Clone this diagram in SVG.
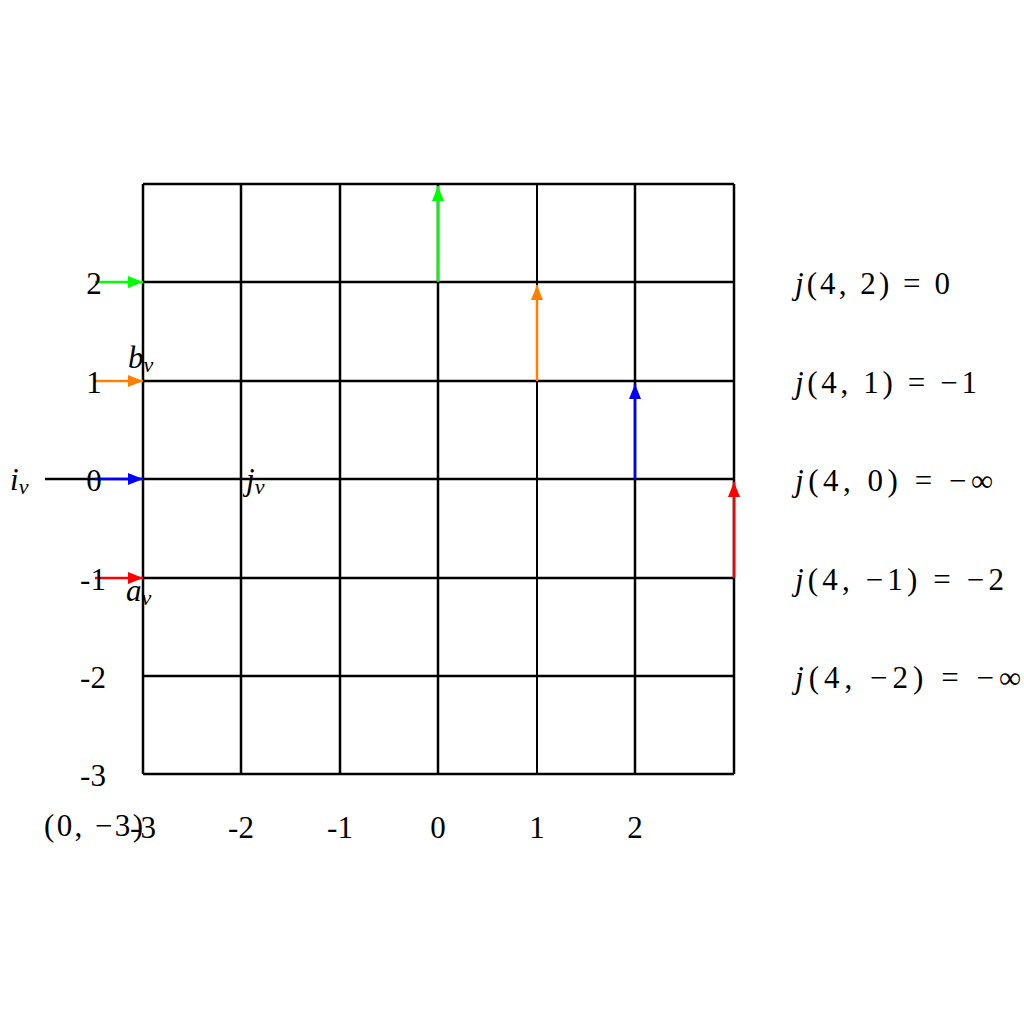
<svg xmlns="http://www.w3.org/2000/svg" width="1024" height="1024" viewBox="0 0 1024 1024">
<style>
.g{stroke:#000;stroke-width:2.5;fill:none}
text{font-family:"Liberation Serif","DejaVu Serif",serif;font-size:31px;fill:#000}
.m{font-style:italic}
.c{text-anchor:middle}
.s{font-size:22px}
</style>
<defs>
<marker id="ag" markerWidth="15" markerHeight="12" refX="15" refY="6" orient="auto" markerUnits="userSpaceOnUse"><path d="M0,0 L15,6 L0,12 Z" fill="#00ff00"/></marker>
<marker id="ao" markerWidth="15" markerHeight="12" refX="15" refY="6" orient="auto" markerUnits="userSpaceOnUse"><path d="M0,0 L15,6 L0,12 Z" fill="#ff8000"/></marker>
<marker id="ab" markerWidth="15" markerHeight="12" refX="15" refY="6" orient="auto" markerUnits="userSpaceOnUse"><path d="M0,0 L15,6 L0,12 Z" fill="#0000ff"/></marker>
<marker id="ar" markerWidth="15" markerHeight="12" refX="15" refY="6" orient="auto" markerUnits="userSpaceOnUse"><path d="M0,0 L15,6 L0,12 Z" fill="#ff0000"/></marker>
</defs>
<rect width="1024" height="1024" fill="#fff"/>
<g id="grid" class="g">
<line x1="143" y1="184" x2="734" y2="184"/>
<line x1="143" y1="282" x2="734" y2="282"/>
<line x1="143" y1="381" x2="734" y2="381"/>
<line x1="45" y1="479" x2="734" y2="479"/>
<line x1="143" y1="578" x2="734" y2="578"/>
<line x1="143" y1="676" x2="734" y2="676"/>
<line x1="143" y1="774" x2="734" y2="774"/>
<line x1="143" y1="184" x2="143" y2="774"/>
<line x1="241" y1="184" x2="241" y2="774"/>
<line x1="340" y1="184" x2="340" y2="774"/>
<line x1="438" y1="184" x2="438" y2="774"/>
<line x1="537" y1="184" x2="537" y2="774" stroke-width="2"/>
<line x1="635" y1="184" x2="635" y2="774"/>
<line x1="734" y1="184" x2="734" y2="774"/>
</g>
<g id="connectors" stroke-width="2.5" fill="none">
<line x1="95" y1="282" x2="143" y2="282" stroke="#00ff00" marker-end="url(#ag)"/>
<line x1="95" y1="381" x2="143" y2="381" stroke="#ff8000" marker-end="url(#ao)"/>
<line x1="95" y1="479" x2="143" y2="479" stroke="#0000ff" marker-end="url(#ab)"/>
<line x1="95" y1="578" x2="143" y2="578" stroke="#ff0000" marker-end="url(#ar)"/>
<line x1="438" y1="282" x2="438" y2="186" stroke="#00ff00" marker-end="url(#ag)"/>
<line x1="537" y1="381" x2="537" y2="285" stroke="#ff8000" marker-end="url(#ao)"/>
<line x1="635" y1="479" x2="635" y2="384" stroke="#0000ff" marker-end="url(#ab)"/>
<line x1="734" y1="578" x2="734" y2="482" stroke="#ff0000" marker-end="url(#ar)"/>
</g>
<g id="ylabels">
<text x="94" y="294" class="c">2</text>
<text x="94" y="393" class="c">1</text>
<text x="94" y="491" class="c">0</text>
<text x="93" y="590" class="c">-1</text>
<text x="93" y="688" class="c">-2</text>
<text x="93" y="786" class="c">-3</text>
</g>
<g id="xlabels">
<text x="143" y="838" class="c">-3</text>
<text x="241" y="838" class="c">-2</text>
<text x="340" y="838" class="c">-1</text>
<text x="438" y="838" class="c">0</text>
<text x="537" y="838" class="c">1</text>
<text x="635" y="838" class="c">2</text>
<text x="44" y="836" textLength="99" lengthAdjust="spacing">(0, −3)</text>
</g>
<g id="vlabels">
<text x="10" y="490" class="m">i<tspan class="s" dy="4">v</tspan></text>
<text x="246" y="490" class="m">j<tspan class="s" dy="4">v</tspan></text>
<text x="128" y="368" class="m">b<tspan class="s" dy="4">v</tspan></text>
<text x="126" y="601" class="m">a<tspan class="s" dy="4">v</tspan></text>
</g>
<g id="jlabels">
<text x="795" y="294" textLength="155" lengthAdjust="spacing"><tspan class="m">j</tspan>(4, 2) = 0</text>
<text x="795" y="393" textLength="182" lengthAdjust="spacing"><tspan class="m">j</tspan>(4, 1) = −1</text>
<text x="795" y="491" textLength="198" lengthAdjust="spacing"><tspan class="m">j</tspan>(4, 0) = −∞</text>
<text x="795" y="590" textLength="209" lengthAdjust="spacing"><tspan class="m">j</tspan>(4, −1) = −2</text>
<text x="795" y="688" textLength="226" lengthAdjust="spacing"><tspan class="m">j</tspan>(4, −2) = −∞</text>
</g>
</svg>
